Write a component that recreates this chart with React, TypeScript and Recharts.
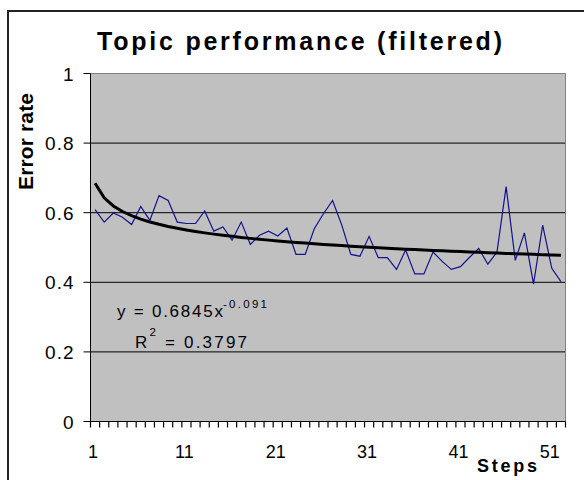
import React from 'react';
import { LineChart, Line, XAxis, YAxis, CartesianGrid, ReferenceArea } from 'recharts';

const steps = [
  1, 2, 3, 4, 5, 6, 7, 8, 9, 10, 11, 12, 13, 14, 15, 16, 17, 18, 19, 20, 21, 22, 23, 24, 25, 26,
  27, 28, 29, 30, 31, 32, 33, 34, 35, 36, 37, 38, 39, 40, 41, 42, 43, 44, 45, 46, 47, 48, 49, 50, 51, 52,
];

const errorRate = [
  0.609, 0.573, 0.599, 0.587, 0.566, 0.618, 0.578, 0.649, 0.635, 0.573,
  0.569, 0.569, 0.605, 0.547, 0.559, 0.521, 0.573, 0.509, 0.535, 0.547,
  0.533, 0.556, 0.48, 0.48, 0.554, 0.597, 0.635, 0.565, 0.48, 0.475,
  0.532, 0.471, 0.471, 0.437, 0.493, 0.424, 0.424, 0.487, 0.46, 0.437,
  0.445, 0.472, 0.497, 0.452, 0.487, 0.675, 0.463, 0.542, 0.395, 0.564,
  0.44, 0.402,
];

// Power trendline as drawn in the chart (y = 0.6845x^-0.091)
const powerTrend = [
  0.6845, 0.6427, 0.6194, 0.6034, 0.5913, 0.5815, 0.5734, 0.5666, 0.5605, 0.5551,
  0.5503, 0.546, 0.542, 0.5384, 0.535, 0.532, 0.5289, 0.5262, 0.5236, 0.5212,
  0.5189, 0.5167, 0.5146, 0.5126, 0.5108, 0.5089, 0.5072, 0.5054, 0.5038, 0.5023,
  0.5008, 0.4993, 0.498, 0.4966, 0.4953, 0.494, 0.4928, 0.4916, 0.4904, 0.4893,
  0.4882, 0.4871, 0.4861, 0.4851, 0.4841, 0.4831, 0.4822, 0.4813, 0.4804, 0.4795,
  0.4786, 0.4778,
];

const xLabelTicks = [1, 11, 21, 31, 41, 51];
const yTicks = [0, 0.2, 0.4, 0.6, 0.8, 1];
const gridValues = [0.2, 0.4, 0.6, 0.8];
const bandEdges = Array.from({ length: steps.length + 1 }, (_, i) => i + 0.5);

const data = steps.map((s, i) => ({ step: s, err: errorRate[i], trend: powerTrend[i] }));

const FONT = '"Liberation Sans", Arial, Helvetica, sans-serif';
const CHART_W = 584;
const M_LEFT = 0.5;
const Y_W = 90;
const M_RIGHT = 18.5;
const HALF_BAND = (CHART_W - M_LEFT - Y_W - M_RIGHT) / steps.length / 2;

// Tick marks sit on the category edges; labels are drawn at the centre of the
// category that starts at a labelled edge.
const XTick = (props: any) => {
  const { x, y, payload } = props;
  const step = payload.value + 0.5;
  if (!xLabelTicks.includes(step)) return <g />;
  return (
    <text x={x + HALF_BAND - 2} y={y + 30.5} textAnchor="middle" fontSize={18} fontFamily={FONT} fill="#000">
      {String(step)}
    </text>
  );
};

const YTick = (props: any) => {
  const { x, y, payload } = props;
  return (
    <text x={x} y={y + 7} textAnchor="end" fontSize={19} letterSpacing={1} fontFamily={FONT} fill="#000">
      {String(payload.value)}
    </text>
  );
};

export default function App() {
  return (
    <div
      style={{
        position: 'fixed',
        left: 0,
        top: 0,
        width: 584,
        height: 480,
        overflow: 'hidden',
        background: '#fff',
        fontFamily: FONT,
      }}
    >
      <div
        style={{
          position: 'absolute',
          left: 7,
          top: 10,
          width: 700,
          height: 700,
          borderLeft: '2px solid #222',
          borderTop: '2px solid #222',
        }}
      />
      <div style={{ position: 'absolute', left: 0, top: 0 }}>
        <LineChart
          width={CHART_W}
          height={480}
          data={data}
          margin={{ top: 73.5, right: M_RIGHT, left: M_LEFT, bottom: 0 }}
        >
          <CartesianGrid
            vertical={false}
            horizontalValues={gridValues}
            stroke="#000"
            strokeWidth={1}
            fill="#c0c0c0"
            fillOpacity={1}
          />
          <ReferenceArea x1={0.5} x2={52.5} y1={0} y2={1} fill="none" stroke="#808080" strokeWidth={1} />
          <XAxis
            dataKey="step"
            type="number"
            domain={[0.5, 52.5]}
            ticks={bandEdges}
            interval={0}
            tickSize={6}
            tickMargin={0}
            tickLine={{ stroke: '#000', strokeWidth: 1.2 }}
            axisLine={{ stroke: '#000', strokeWidth: 1 }}
            tick={<XTick />}
            height={58.5}
          />
          <YAxis
            type="number"
            domain={[0, 1]}
            ticks={yTicks}
            interval={0}
            width={Y_W}
            tickSize={7}
            tickMargin={9}
            tickLine={{ stroke: '#000', strokeWidth: 1 }}
            axisLine={{ stroke: '#000', strokeWidth: 1 }}
            tick={<YTick />}
          />
          <Line type="linear" dataKey="err" stroke="#12128c" strokeWidth={1.2} dot={false} isAnimationActive={false} />
          <Line type="linear" dataKey="trend" stroke="#000" strokeWidth={3} dot={false} isAnimationActive={false} />
        </LineChart>
      </div>
      <svg
        width={584}
        height={480}
        style={{ position: 'absolute', left: 0, top: 0, pointerEvents: 'none' }}
      >
        <text x={97} y={49.5} fontSize={25} fontWeight="bold" fontFamily={FONT} textLength={405} lengthAdjust="spacing" fill="#000">
          Topic performance (filtered)
        </text>
        <text transform="translate(32.5,141.5) rotate(-90)" textAnchor="middle" fontSize={21} fontWeight="bold" fontFamily={FONT} textLength={97} lengthAdjust="spacing" fill="#000">
          Error rate
        </text>
        <text x={477} y={471.5} fontSize={18} fontWeight="bold" fontFamily={FONT} textLength={60} lengthAdjust="spacing" fill="#000">
          Steps
        </text>
        <text x={117} y={317} fontSize={17} fontFamily={FONT} textLength={106} lengthAdjust="spacing" fill="#000">
          y = 0.6845x
        </text>
        <text x={223} y={308} fontSize={11.5} fontFamily={FONT} textLength={44} lengthAdjust="spacing" fill="#000">
          -0.091
        </text>
        <text x={135} y={348} fontSize={17} fontFamily={FONT} fill="#000">
          R
        </text>
        <text x={149.5} y={336} fontSize={11.5} fontFamily={FONT} fill="#000">
          2
        </text>
        <text x={165} y={348} fontSize={17} fontFamily={FONT} textLength={82} lengthAdjust="spacing" fill="#000">
          = 0.3797
        </text>
      </svg>
    </div>
  );
}
